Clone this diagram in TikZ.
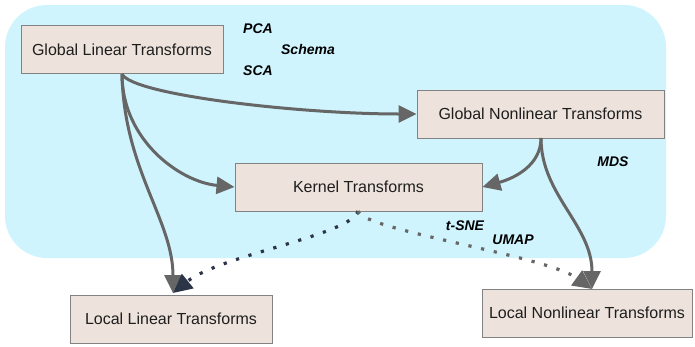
\documentclass[tikz,border=0pt]{standalone}
\usepackage{fontspec}
\setmainfont{Liberation Sans}
\usetikzlibrary{arrows.meta}
\definecolor{zone}{RGB}{207,244,253}
\definecolor{boxfill}{RGB}{237,227,220}
\definecolor{boxline}{RGB}{130,130,130}
\definecolor{link}{RGB}{102,102,102}
\definecolor{navy}{RGB}{44,53,72}
\definecolor{ink}{RGB}{30,30,30}
\tikzset{
  tbox/.style={draw=boxline, line width=1pt, fill=boxfill, minimum height=48pt,
    inner sep=0pt, font=\fontsize{16}{19}\selectfont, text=ink},
  tag/.style={font=\fontsize{14}{16}\selectfont\bfseries\itshape, text=black},
  flow/.style={draw=link, line width=3pt, -{Triangle[length=18pt,width=17pt]}},
  dotflow/.style={line width=3.2pt, dash pattern=on 3.2pt off 9.8pt},
}
\begin{document}
\begin{tikzpicture}[x=1pt,y=-1pt]
\useasboundingbox (0,0) rectangle (695,346);
% shaded zone holding the global transforms
\fill[zone, rounded corners=42pt] (5,5) rectangle (666,258);

\node[tbox, minimum width=202pt] (gl) at (122,49.5) {Global Linear Transforms};
\node[tbox, minimum width=247pt] (gn) at (540.5,114) {Global Nonlinear Transforms};
\node[tbox, minimum width=247pt] (kt) at (358.5,187) {Kernel Transforms};
\node[tbox, minimum width=202pt] (ll) at (171,319) {Local Linear Transforms};
\node[tbox, minimum width=210pt] (ln) at (587,313) {Local Nonlinear Transforms};

\node[tag] (pca) at (258,29) {PCA};
\node[tag] (schema) at (308,49) {Schema};
\node[tag] (sca) at (258,71) {SCA};
\node[tag] (mds) at (613,162) {MDS};
\node[tag] (tsne) at (465,226) {t-SNE};
\node[tag] (umap) at (513,240) {UMAP};

\coordinate (glb) at (122,74);
\coordinate (gnb) at (541,138);
\coordinate (ktb) at (358,211);
\coordinate (llt) at (173,293);
\coordinate (lnt) at (592,289);

\draw[flow] (glb) .. controls (132,95) and (300,114) .. (gn.west);
\draw[flow] (glb) .. controls (122,140) and (180,182) .. (kt.west);
\draw[flow] (glb) .. controls (124,170) and (173,220) .. (llt);
\draw[flow] (gnb) .. controls (541,165) and (515,178) .. (kt.east);
\draw[flow] (gnb) .. controls (541,195) and (592,225) .. (lnt);

\draw[dotflow, draw=navy, -{Triangle[length=19pt,width=18pt,fill=navy]}]
  (ktb) .. controls (352,235) and (220,255) .. (llt);
\draw[dotflow, draw=link, -{Triangle[length=19pt,width=18pt,fill=link]}]
  (ktb) .. controls (362,230) and (545,255) .. (lnt);
\end{tikzpicture}
\end{document}
